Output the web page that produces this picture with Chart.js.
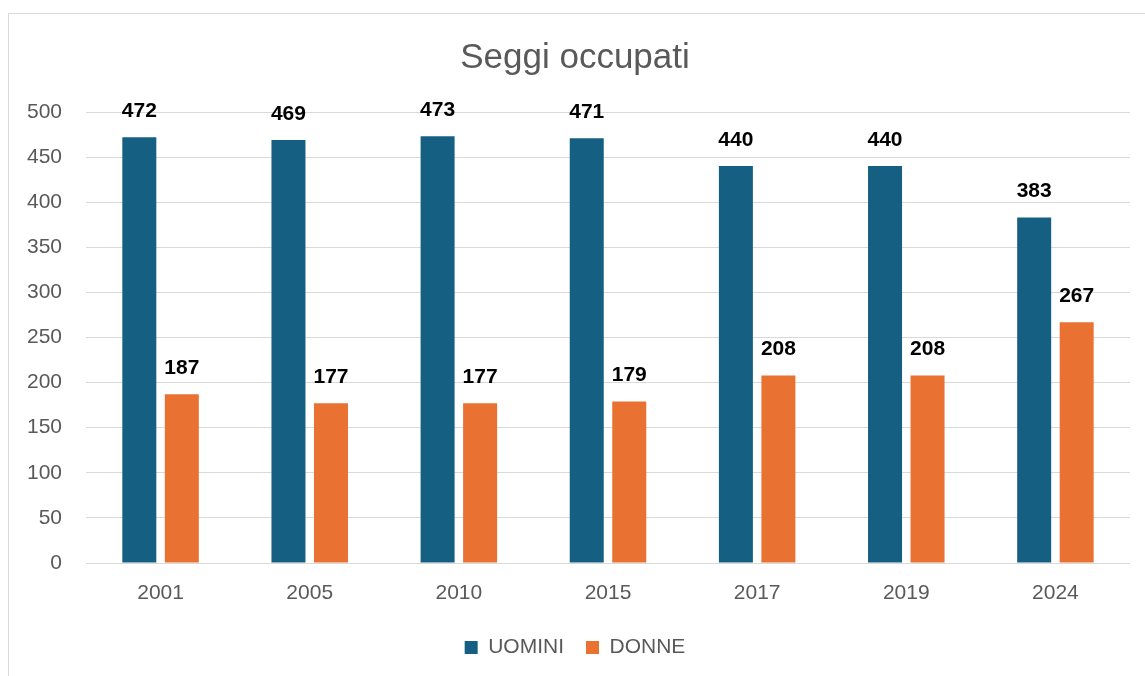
<!DOCTYPE html>
<html>
<head>
<meta charset="utf-8">
<script src="https://cdn.jsdelivr.net/npm/chart.js@4.4.1/dist/chart.umd.min.js"></script>
<style>
    html, body { margin: 0; padding: 0; background: #ffffff; overflow: hidden; }
    #frame { position: absolute; left: 8px; top: 13px; width: 1200px; height: 700px; border: 1px solid #d9d9d9; }
    #wrap { position: absolute; left: 0; top: 0; width: 1145px; height: 676px; }
</style>
</head>
<body>
<div id="frame"></div>
<div id="wrap"><canvas id="seggiChart"></canvas></div>
<script>
// Data
const years = ['2001', '2005', '2010', '2015', '2017', '2019', '2024'];
const uomini = [472, 469, 473, 471, 440, 440, 383];
const donne = [187, 177, 177, 179, 208, 208, 267];
const yTicks = [0, 50, 100, 150, 200, 250, 300, 350, 400, 450, 500];

const FONT = "'Liberation Sans', Arial, sans-serif";

// Bold labels above each bar
const barLabels = {
    id: 'barLabels',
    afterDatasetsDraw(chart) {
        const ctx = chart.ctx;
        ctx.save();
        ctx.font = 'bold 21px ' + FONT;
        ctx.fillStyle = '#000000';
        ctx.textAlign = 'center';
        ctx.textBaseline = 'middle';
        chart.data.datasets.forEach((ds, i) => {
            chart.getDatasetMeta(i).data.forEach((bar, j) => {
                ctx.fillText(ds.data[j], bar.x, bar.y - 26);
            });
        });
        ctx.restore();
    }
};

const ctx = document.getElementById('seggiChart').getContext('2d');
new Chart(ctx, {
    type: 'bar',
    data: {
        labels: years,
        datasets: [
            {
                label: 'UOMINI',
                data: uomini,
                backgroundColor: '#156082',
                categoryPercentage: 0.57,
                barPercentage: 0.8
            },
            {
                label: 'DONNE',
                data: donne,
                backgroundColor: '#E97132',
                categoryPercentage: 0.57,
                barPercentage: 0.8
            }
        ]
    },
    options: {
        responsive: true,
        maintainAspectRatio: false,
        animation: false,
        layout: {
            padding: { left: 20, right: 15, top: 0, bottom: 8 }
        },
        plugins: {
            title: {
                display: true,
                text: 'Seggi occupati',
                color: '#595959',
                font: { family: FONT, size: 35, weight: 'normal' },
                padding: { top: 37, bottom: 33 }
            },
            legend: {
                position: 'bottom',
                labels: {
                    color: '#595959',
                    font: { family: FONT, size: 21 },
                    boxWidth: 13,
                    boxHeight: 13,
                    padding: 22
                }
            },
            tooltip: { enabled: false }
        },
        scales: {
            y: {
                min: 0,
                max: 500,
                afterFit: function(scale) { scale.width = 66; },
                afterBuildTicks: function(scale) {
                    scale.ticks = yTicks.map(v => ({ value: v }));
                },
                ticks: {
                    color: '#595959',
                    font: { family: FONT, size: 21 },
                    padding: 24
                },
                grid: { color: '#d9d9d9', lineWidth: 1, drawTicks: false },
                border: { display: false }
            },
            x: {
                afterFit: function(scale) { scale.height = 52; },
                ticks: {
                    color: '#595959',
                    font: { family: FONT, size: 21 },
                    padding: 10
                },
                grid: { display: false },
                border: { display: false }
            }
        }
    },
    plugins: [barLabels]
});
</script>
</body>
</html>
